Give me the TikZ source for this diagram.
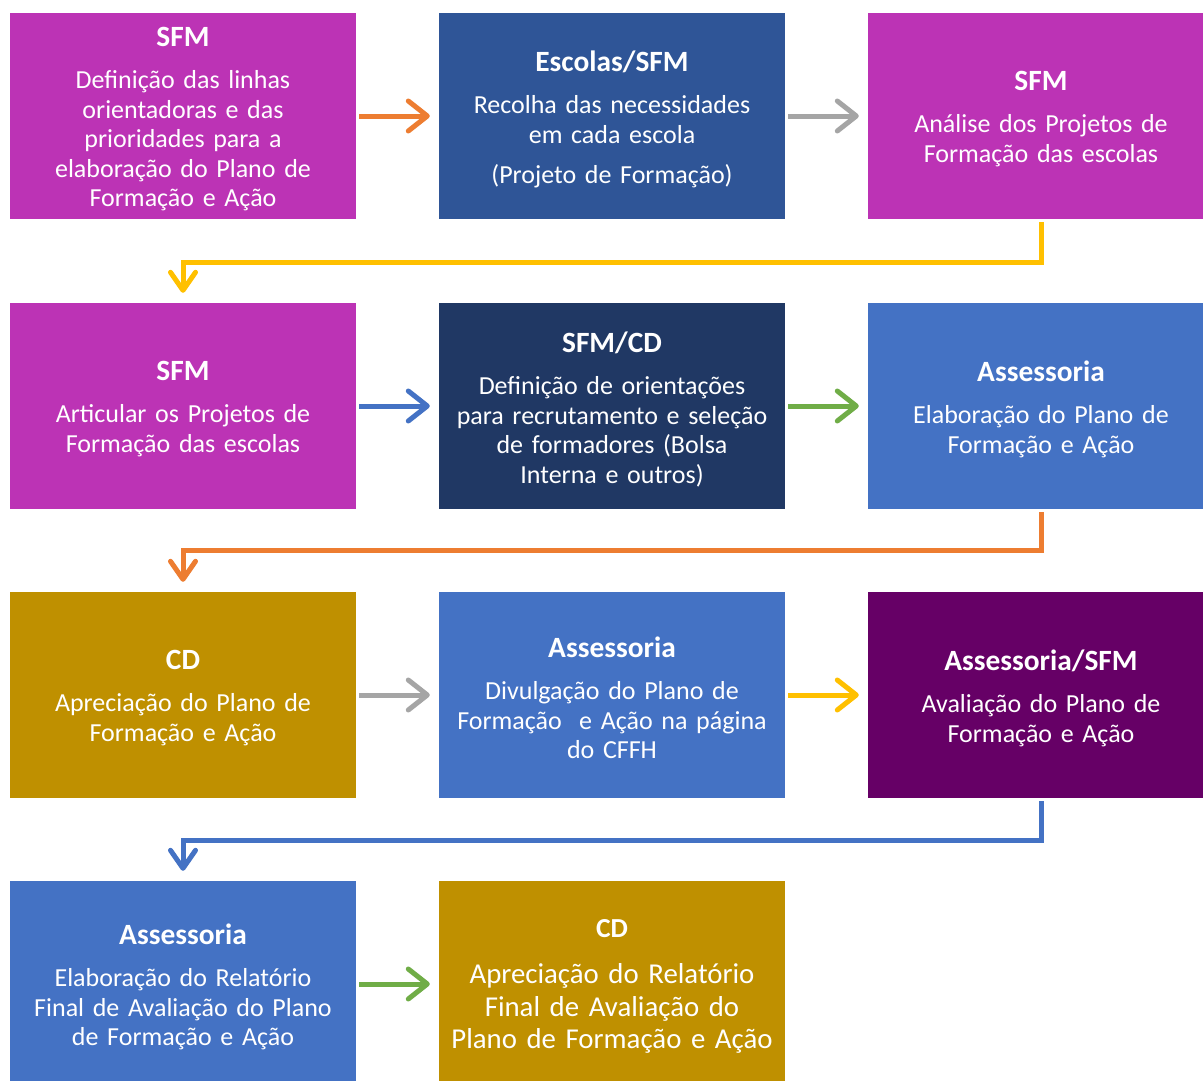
\documentclass[tikz,border=0pt]{standalone}
\usepackage{fontspec}
\setmainfont{Carlito}
\usetikzlibrary{arrows.meta}
\definecolor{cmag}{RGB}{188,51,181}
\definecolor{cblue}{RGB}{47,85,151}
\definecolor{cnavy}{RGB}{32,56,100}
\definecolor{cacc}{RGB}{68,114,196}
\definecolor{cgold}{RGB}{191,144,0}
\definecolor{cpurp}{RGB}{102,0,102}
\definecolor{aorange}{RGB}{237,125,49}
\definecolor{agray}{RGB}{165,165,165}
\definecolor{ayellow}{RGB}{255,192,0}
\definecolor{ablue}{RGB}{68,114,196}
\definecolor{agreen}{RGB}{112,173,71}
\newcommand\bodyfnt{\fontsize{26pt}{29.5pt}\selectfont}
\newcommand\titlefnt{\fontsize{29.4pt}{33pt}\selectfont\bfseries}
\newcommand\ttl[1]{{\titlefnt #1\par}\vspace{13pt}}
\tikzset{
  stepbox/.style={rectangle, minimum width=346pt, minimum height=206pt, inner sep=0pt},
  steptext/.style={inner sep=0pt, text width=344pt, align=center, text=white, font=\bodyfnt},
  harrow/.style={line width=5pt, -{Straight Barb[length=19pt,width=30pt,round]}},
  elbow/.style={line width=5pt, -{Straight Barb[length=18pt,width=25pt,round]}}
}
\begin{document}
\begin{tikzpicture}[x=1pt,y=-1pt]
\clip (0,0) rectangle (1203,1081);
\fill[white] (0,0) rectangle (1203,1081);
% boxes
\node[stepbox, fill=cmag]  (b1) at (183,116) {};
\node[stepbox, fill=cblue] (b2) at (612,116) {};
\node[stepbox, fill=cmag]  (b3) at (1041,116) {};
\node[stepbox, fill=cmag]  (b4) at (183,406) {};
\node[stepbox, fill=cnavy] (b5) at (612,406) {};
\node[stepbox, fill=cacc]  (b6) at (1041,406) {};
\node[stepbox, fill=cgold] (b7) at (183,695) {};
\node[stepbox, fill=cacc]  (b8) at (612,695) {};
\node[stepbox, fill=cpurp] (b9) at (1041,695) {};
\node[stepbox, fill=cacc]  (b10) at (183,984) {};
\node[stepbox, fill=cgold] (b11) at (612,984) {};
% texts
\node[steptext] (t1) at ([yshift=-3pt]b1.center) {\ttl{SFM}Definição das linhas\\orientadoras e das\\prioridades para a\\elaboração do Plano de\\Formação e Ação};
\node[steptext] (t2) at ([yshift=-3pt]b2.center) {\ttl{Escolas/SFM}Recolha das necessidades\\em cada escola\\[10.5pt](Projeto de Formação)};
\node[steptext] (t3) at ([yshift=-3pt]b3.center) {\ttl{SFM}Análise dos Projetos de\\Formação das escolas};
\node[steptext] (t4) at ([yshift=-3pt]b4.center) {\ttl{SFM}Articular os Projetos de\\Formação das escolas};
\node[steptext] (t5) at ([yshift=-3pt]b5.center) {\ttl{SFM/CD}Definição de orientações\\para recrutamento e seleção\\de formadores (Bolsa\\Interna e outros)};
\node[steptext] (t6) at ([yshift=-3pt]b6.center) {\ttl{Assessoria}Elaboração do Plano de\\Formação e Ação};
\node[steptext] (t7) at ([yshift=-3pt]b7.center) {\ttl{CD}Apreciação do Plano de\\Formação e Ação};
\node[steptext] (t8) at ([yshift=-3pt]b8.center) {\ttl{Assessoria}Divulgação do Plano de\\Formação\ \ e Ação na página\\do CFFH};
\node[steptext] (t9) at ([yshift=-3pt]b9.center) {\ttl{Assessoria/SFM}Avaliação do Plano de\\Formação e Ação};
\node[steptext] (t10) at ([yshift=-3pt]b10.center) {\ttl{Assessoria}Elaboração do Relatório\\Final de Avaliação do Plano\\de Formação e Ação};
\node[steptext, font=\fontsize{28.8pt}{32.5pt}\selectfont] (t11) at ([yshift=-2.5pt]b11.center) {{\fontsize{27.5pt}{31pt}\selectfont\bfseries CD\par}\vspace{14pt}Apreciação do Relatório\\Final de Avaliação do\\Plano de Formação e Ação};
% horizontal arrows
\draw[harrow, aorange] ([xshift=3pt]b1.east) -- ([xshift=-9pt]b2.west);
\draw[harrow, agray] ([xshift=3pt]b2.east) -- ([xshift=-9pt]b3.west);
\draw[harrow, ablue] ([xshift=3pt]b4.east) -- ([xshift=-9pt]b5.west);
\draw[harrow, agreen] ([xshift=3pt]b5.east) -- ([xshift=-9pt]b6.west);
\draw[harrow, agray] ([xshift=3pt]b7.east) -- ([xshift=-9pt]b8.west);
\draw[harrow, ayellow] ([xshift=3pt]b8.east) -- ([xshift=-9pt]b9.west);
\draw[harrow, agreen] ([xshift=3pt]b10.east) -- ([xshift=-9pt]b11.west);
% elbow connectors
\draw[elbow, ayellow] ([yshift=-3pt]b3.south) -- ++(0,40) -| ([yshift=10pt]b4.north);
\draw[elbow, aorange] ([yshift=-3pt]b6.south) -- ++(0,38) -| ([yshift=10pt]b7.north);
\draw[elbow, ablue] ([yshift=-3pt]b9.south) -- ++(0,39) -| ([yshift=10pt]b10.north);
\end{tikzpicture}
\end{document}
